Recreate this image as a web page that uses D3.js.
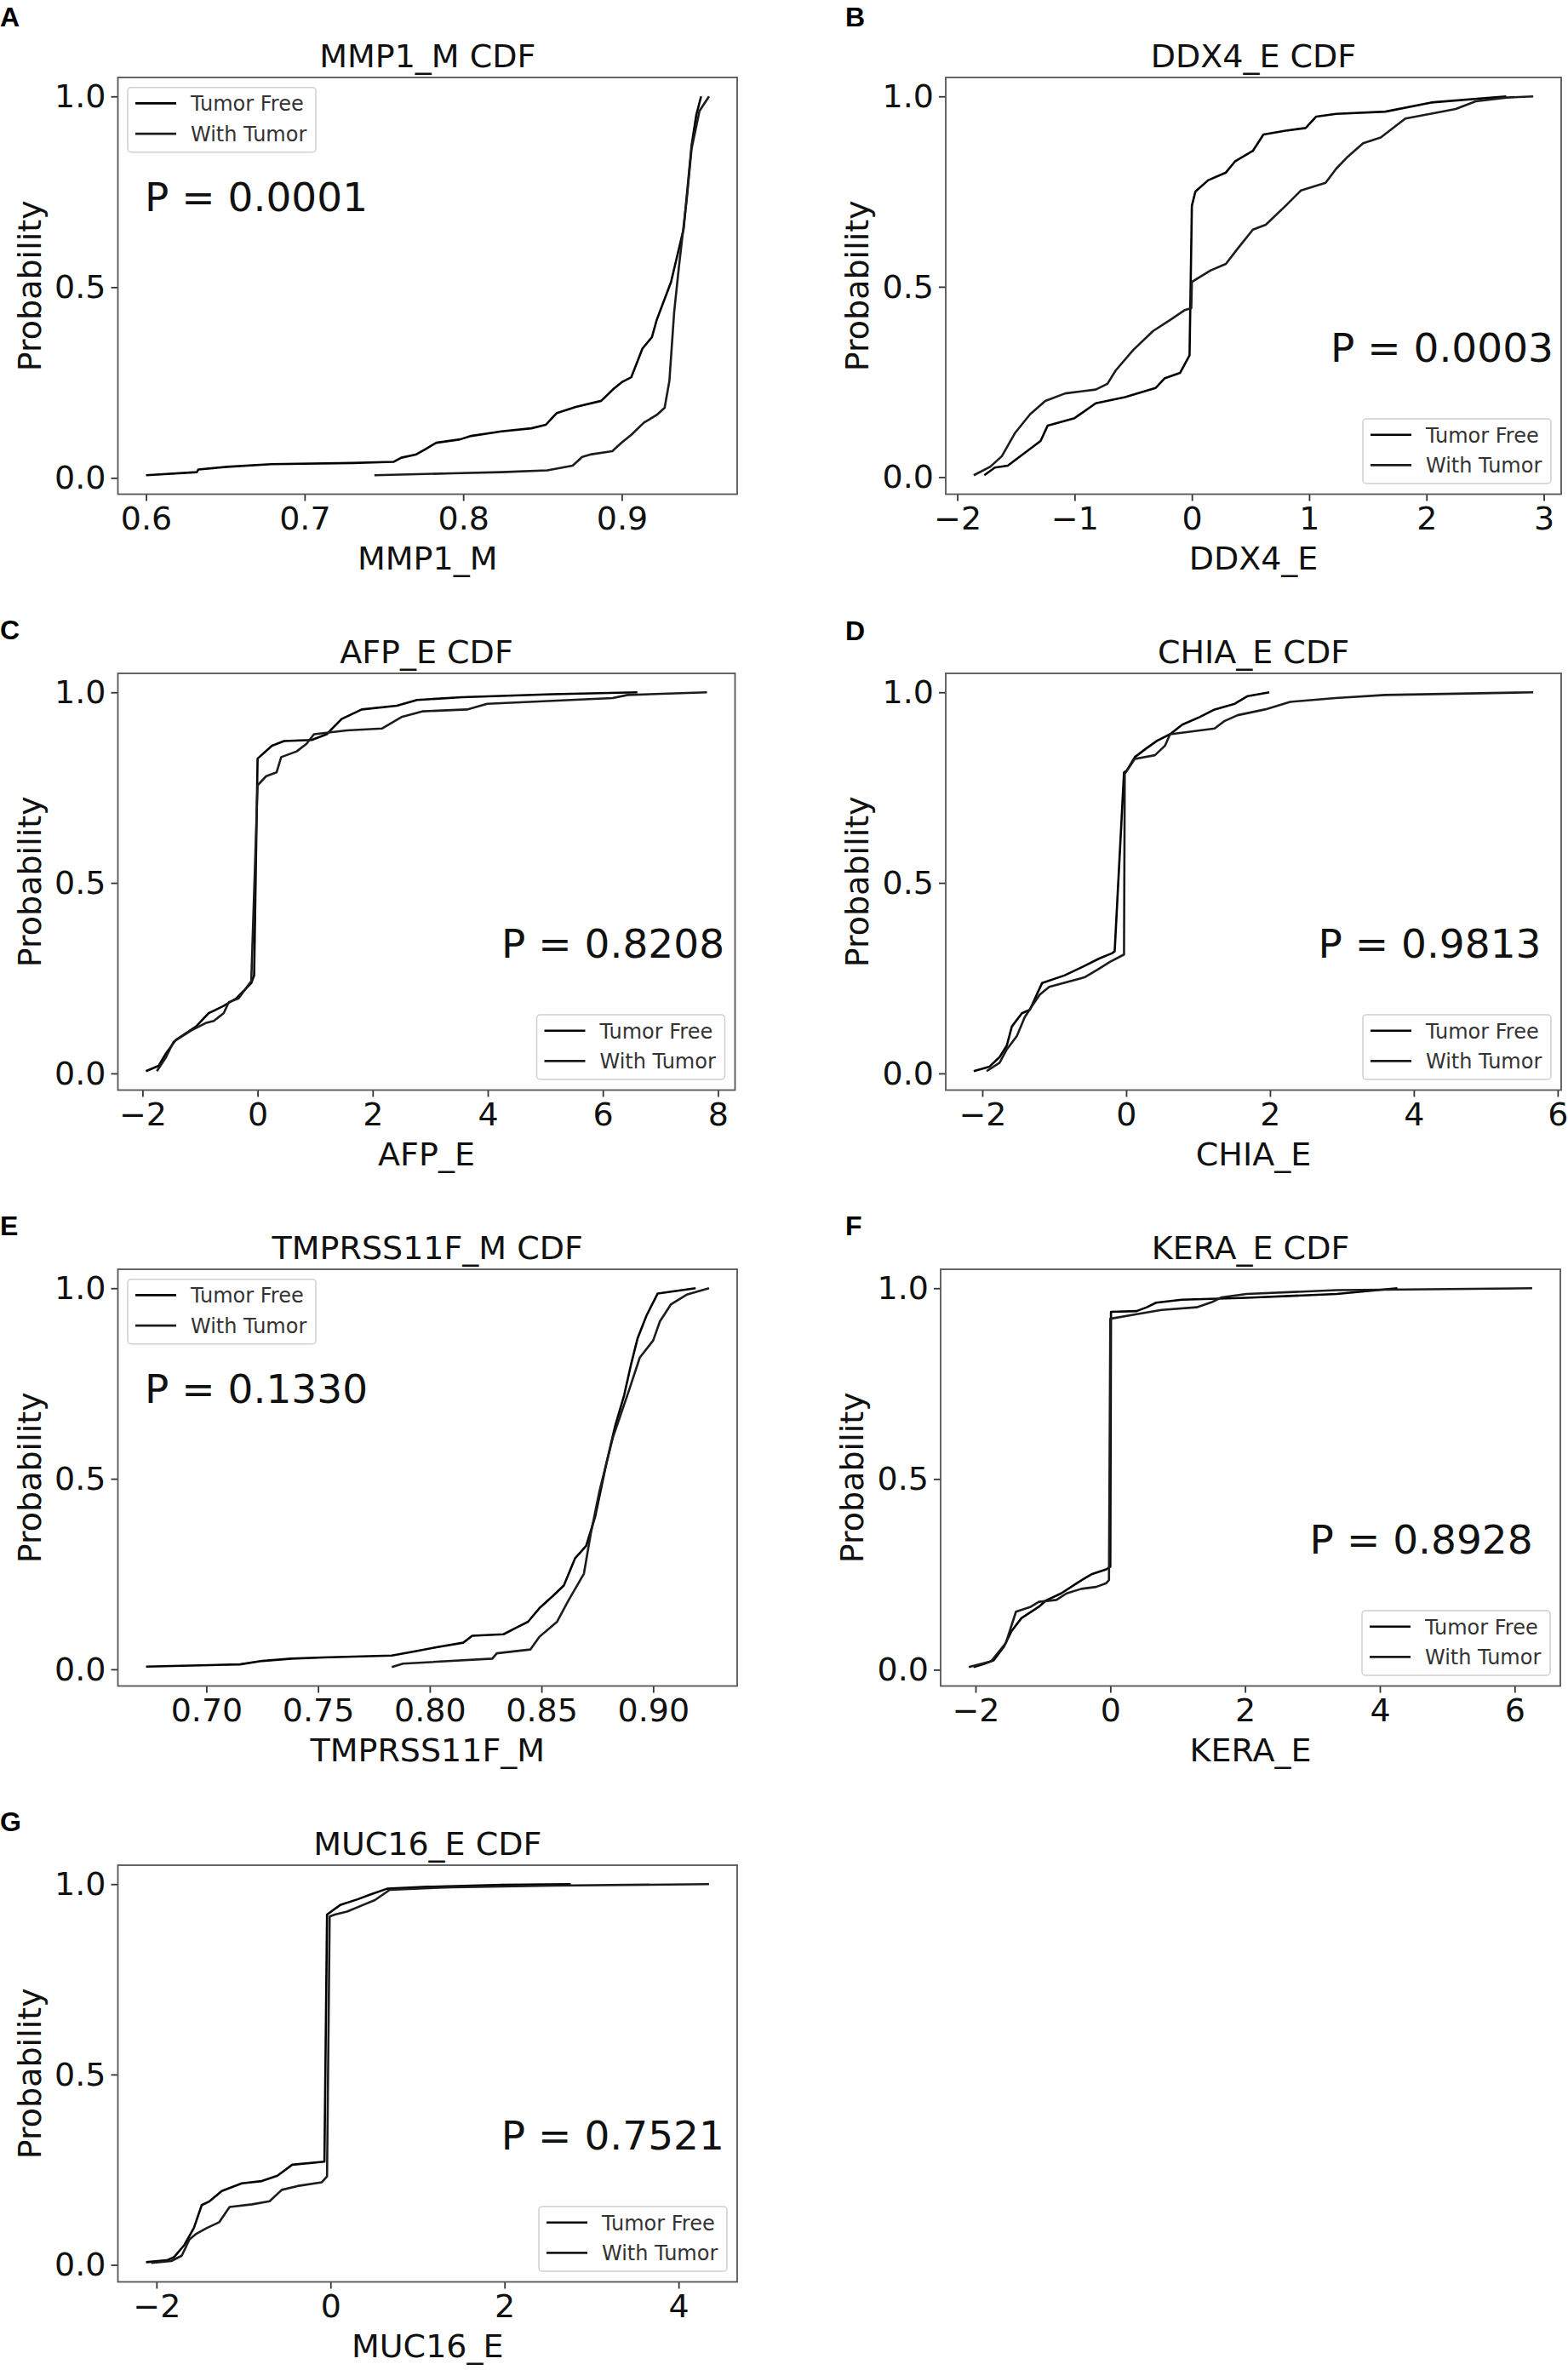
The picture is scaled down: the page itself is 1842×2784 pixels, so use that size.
<!DOCTYPE html>
<html lang="en">
<head>
<meta charset="UTF-8">
<title>CDF panels</title>
<script src="https://cdn.jsdelivr.net/npm/d3@7"></script>
<style>
  body { margin: 0; background: #fff; }
  text { font-family: "DejaVu Sans", sans-serif; }
</style>
</head>
<body>
<svg id="fig" width="1842" height="2784"></svg>
<script>
// ---- data: [value, cumulative probability] ----
var mmp1Free = [[0.600,0.007],[0.632,0.015],[0.633,0.022],[0.651,0.029],[0.679,0.036],[0.730,0.039],[0.756,0.042],[0.761,0.053],[0.770,0.061],[0.776,0.075],[0.783,0.092],[0.798,0.101],[0.805,0.110],[0.824,0.122],[0.843,0.130],[0.852,0.139],[0.859,0.170],[0.871,0.186],[0.887,0.202],[0.895,0.234],[0.900,0.251],[0.906,0.264],[0.913,0.339],[0.919,0.369],[0.922,0.414],[0.931,0.513],[0.939,0.653],[0.944,0.872],[0.947,0.952],[0.950,1.0]];
var mmp1Tumor = [[0.744,0.007],[0.793,0.012],[0.824,0.015],[0.853,0.020],[0.869,0.032],[0.875,0.055],[0.881,0.062],[0.894,0.070],[0.900,0.093],[0.906,0.113],[0.914,0.145],[0.922,0.165],[0.927,0.184],[0.930,0.254],[0.933,0.434],[0.936,0.553],[0.941,0.733],[0.944,0.863],[0.949,0.962],[0.955,1.0]];

var ddx4Free = [[-1.77,0.005],[-1.68,0.025],[-1.57,0.030],[-1.42,0.065],[-1.29,0.095],[-1.23,0.135],[-1.00,0.155],[-0.82,0.194],[-0.57,0.210],[-0.31,0.234],[-0.23,0.260],[-0.10,0.274],[-0.02,0.320],[0.00,0.713],[0.03,0.750],[0.14,0.780],[0.29,0.800],[0.37,0.830],[0.52,0.857],[0.61,0.900],[0.80,0.910],[0.97,0.917],[1.06,0.947],[1.23,0.954],[1.65,0.960],[2.04,0.984],[2.68,1.0]];
var ddx4Tumor = [[-1.86,0.005],[-1.72,0.027],[-1.62,0.055],[-1.51,0.115],[-1.38,0.165],[-1.25,0.200],[-1.08,0.220],[-0.82,0.230],[-0.72,0.245],[-0.65,0.280],[-0.50,0.334],[-0.33,0.384],[-0.18,0.414],[-0.06,0.439],[-0.005,0.444],[0.00,0.513],[0.16,0.543],[0.29,0.560],[0.39,0.600],[0.52,0.650],[0.63,0.663],[0.80,0.713],[0.93,0.753],[1.14,0.773],[1.23,0.810],[1.33,0.842],[1.46,0.877],[1.61,0.892],[1.82,0.942],[2.08,0.957],[2.25,0.967],[2.42,0.987],[2.68,0.997],[2.91,1.0]];

var afpFree = [[-1.94,0.006],[-1.72,0.020],[-1.59,0.053],[-1.42,0.088],[-1.07,0.123],[-0.85,0.158],[-0.59,0.177],[-0.37,0.197],[-0.11,0.237],[-0.06,0.257],[0.00,0.826],[0.25,0.860],[0.46,0.872],[0.94,0.875],[1.20,0.890],[1.46,0.930],[1.81,0.955],[2.42,0.965],[2.77,0.980],[3.55,0.987],[5.12,0.995],[6.60,1.0]];
var afpTumor = [[-1.75,0.006],[-1.59,0.043],[-1.46,0.083],[-1.15,0.113],[-0.89,0.133],[-0.76,0.138],[-0.59,0.158],[-0.50,0.187],[-0.33,0.197],[-0.11,0.242],[0.00,0.756],[0.15,0.780],[0.33,0.790],[0.41,0.830],[0.68,0.845],[0.85,0.865],[0.98,0.890],[1.55,0.900],[2.16,0.905],[2.50,0.935],[2.86,0.950],[3.64,0.955],[3.99,0.970],[6.17,0.985],[6.43,0.993],[7.81,1.0]];

var chiaFree = [[-2.12,0.006],[-1.90,0.018],[-1.76,0.043],[-1.66,0.073],[-1.59,0.123],[-1.45,0.158],[-1.34,0.167],[-1.17,0.237],[-0.86,0.257],[-0.58,0.282],[-0.37,0.302],[-0.20,0.315],[-0.16,0.320],[-0.03,0.790],[0.01,0.795],[0.12,0.830],[0.26,0.850],[0.43,0.873],[0.61,0.890],[0.78,0.915],[1.02,0.935],[1.23,0.955],[1.51,0.970],[1.69,0.990],[1.99,1.0]];
var chiaTumor = [[-1.94,0.006],[-1.76,0.028],[-1.66,0.063],[-1.52,0.098],[-1.41,0.148],[-1.31,0.177],[-1.20,0.207],[-1.07,0.227],[-0.58,0.252],[-0.40,0.272],[-0.23,0.292],[-0.03,0.312],[-0.02,0.786],[0.12,0.825],[0.40,0.835],[0.54,0.860],[0.61,0.890],[0.82,0.895],[1.23,0.905],[1.37,0.925],[1.55,0.940],[1.93,0.955],[2.28,0.975],[2.91,0.985],[3.60,0.993],[5.66,1.0]];

var tmprssFree = [[0.673,0.007],[0.715,0.013],[0.725,0.022],[0.738,0.028],[0.752,0.031],[0.783,0.036],[0.794,0.048],[0.803,0.058],[0.815,0.070],[0.819,0.088],[0.833,0.092],[0.839,0.110],[0.844,0.125],[0.849,0.160],[0.855,0.192],[0.860,0.220],[0.865,0.291],[0.870,0.324],[0.874,0.400],[0.879,0.539],[0.883,0.639],[0.887,0.719],[0.890,0.798],[0.893,0.868],[0.897,0.928],[0.902,0.986],[0.919,1.0]];
var tmprssTumor = [[0.783,0.006],[0.788,0.015],[0.828,0.028],[0.830,0.042],[0.845,0.052],[0.849,0.085],[0.857,0.125],[0.862,0.180],[0.869,0.251],[0.872,0.354],[0.876,0.469],[0.882,0.609],[0.889,0.729],[0.894,0.818],[0.900,0.863],[0.903,0.913],[0.908,0.958],[0.915,0.983],[0.925,1.0]];

var keraFree = [[-2.03,0.007],[-1.88,0.015],[-1.73,0.025],[-1.58,0.060],[-1.47,0.100],[-1.32,0.135],[-1.06,0.165],[-0.95,0.182],[-0.73,0.200],[-0.47,0.230],[-0.28,0.250],[-0.06,0.263],[0.00,0.270],[0.01,0.938],[0.39,0.940],[0.54,0.950],[0.68,0.962],[1.06,0.970],[2.02,0.975],[3.36,0.985],[4.26,1.0]];
var keraTumor = [[-2.10,0.007],[-1.77,0.022],[-1.55,0.070],[-1.40,0.152],[-1.18,0.165],[-1.06,0.178],[-0.80,0.183],[-0.65,0.200],[-0.43,0.212],[-0.21,0.217],[-0.06,0.227],[-0.02,0.235],[0.00,0.920],[0.39,0.932],[0.76,0.943],[1.28,0.950],[1.50,0.963],[1.65,0.976],[2.02,0.985],[3.36,0.995],[6.26,1.0]];

var muc16Free = [[-2.12,0.007],[-1.88,0.012],[-1.80,0.020],[-1.68,0.052],[-1.57,0.097],[-1.48,0.157],[-1.39,0.167],[-1.25,0.194],[-1.02,0.214],[-0.79,0.220],[-0.61,0.234],[-0.44,0.263],[-0.07,0.271],[-0.04,0.920],[0.11,0.945],[0.31,0.960],[0.45,0.972],[0.65,0.988],[1.12,0.993],[1.98,0.998],[2.76,1.0]];
var muc16Tumor = [[-2.06,0.005],[-1.83,0.010],[-1.71,0.024],[-1.62,0.067],[-1.54,0.082],[-1.42,0.097],[-1.28,0.112],[-1.16,0.152],[-0.90,0.159],[-0.70,0.167],[-0.56,0.197],[-0.38,0.207],[-0.10,0.217],[-0.04,0.232],[-0.01,0.915],[0.05,0.920],[0.19,0.928],[0.37,0.945],[0.51,0.958],[0.68,0.985],[1.40,0.992],[2.56,0.996],[4.35,1.0]];

var tumorFree = [mmp1Free, ddx4Free, afpFree, chiaFree, tmprssFree, keraFree, muc16Free];
var withTumor = [mmp1Tumor, ddx4Tumor, afpTumor, chiaTumor, tmprssTumor, keraTumor, muc16Tumor];
var seriesNames = ["Tumor Free", "With Tumor"];

var panelLetters = ["A", "B", "C", "D", "E", "F", "G"];
var titles = ["MMP1_M CDF", "DDX4_E CDF", "AFP_E CDF", "CHIA_E CDF", "TMPRSS11F_M CDF", "KERA_E CDF", "MUC16_E CDF"];
var xLabels = ["MMP1_M", "DDX4_E", "AFP_E", "CHIA_E", "TMPRSS11F_M", "KERA_E", "MUC16_E"];
var pValues = ["0.0001", "0.0003", "0.8208", "0.9813", "0.1330", "0.8928", "0.7521"];
var xTicks = [[0.6,0.7,0.8,0.9], [-2,-1,0,1,2,3], [-2,0,2,4,6,8], [-2,0,2,4,6], [0.70,0.75,0.80,0.85,0.90], [-2,0,2,4,6], [-2,0,2,4]];
var xTickFormats = [".1f", "d", "d", "d", ".2f", "d", "d"];
var yTicks = [0.0, 0.5, 1.0];

// ---- layout (pixels) ----
var ROW = 700, BOX_TOP = 91, BOX_H = 489.5;
var boxes = [
  {left: 138.5, right: 866, row: 0, col: 0},
  {left: 1111, right: 1834, row: 0, col: 1},
  {left: 138.5, right: 863.5, row: 1, col: 0},
  {left: 1111, right: 1834, row: 1, col: 1},
  {left: 138.5, right: 866, row: 2, col: 0},
  {left: 1105, right: 1833, row: 2, col: 1},
  {left: 138.5, right: 866, row: 3, col: 0}
];
var letterY = [31, 31, 51, 52, 51, 51, 51];
var legendCorner = ["ul", "lr", "lr", "lr", "ul", "lr", "lr"];
var pPos = [[0.0433, 0.321], [0.625, 0.683], [0.6214, 0.683], [0.605, 0.683], [0.0433, 0.321], [0.5956, 0.683], [0.619, 0.683]];
var lineColours = ["#000", "#1c1c1c"];

var svg = d3.select("#fig");

function drawPanel(i) {
  var b = boxes[i];
  var top = BOX_TOP + ROW * b.row, bottom = top + BOX_H;
  var all = tumorFree[i].concat(withTumor[i]);
  var xe = d3.extent(all, function(d) { return d[0]; });
  var ye = d3.extent(all, function(d) { return d[1]; });
  var xm = (xe[1] - xe[0]) * 0.05, ym = (ye[1] - ye[0]) * 0.05;
  var x = d3.scaleLinear().domain([xe[0] - xm, xe[1] + xm]).range([b.left, b.right]);
  var y = d3.scaleLinear().domain([ye[0] - ym, ye[1] + ym]).range([bottom, top]);
  var g = svg.append("g");

  // panel letter
  g.append("text")
    .attr("x", b.col == 0 ? 0 : 993)
    .attr("y", letterY[i] + ROW * b.row)
    .style("font-family", "'Liberation Sans', Arial, sans-serif")
    .attr("font-weight", "bold")
    .attr("font-size", 32)
    .text(panelLetters[i]);

  // title
  g.append("text")
    .attr("x", (b.left + b.right) / 2)
    .attr("y", top - 12)
    .attr("text-anchor", "middle")
    .attr("font-size", 38)
    .attr("fill", "#111")
    .text(titles[i]);

  // axes
  var xa = g.append("g").attr("transform", "translate(0," + bottom + ")")
    .call(d3.axisBottom(x).tickValues(xTicks[i]).tickFormat(d3.format(xTickFormats[i])).tickSize(8).tickPadding(7));
  var ya = g.append("g").attr("transform", "translate(" + b.left + ",0)")
    .call(d3.axisLeft(y).tickValues(yTicks).tickFormat(d3.format(".1f")).tickSize(8).tickPadding(6));
  [xa, ya].forEach(function(a) {
    a.select(".domain").remove();
    a.attr("font-size", 38).attr("font-family", "DejaVu Sans");
    a.selectAll(".tick line").attr("stroke", "#333").attr("stroke-width", 1.8);
    a.selectAll(".tick text").attr("fill", "#111");
  });

  // frame
  g.append("rect")
    .attr("x", b.left).attr("y", top)
    .attr("width", b.right - b.left).attr("height", bottom - top)
    .attr("fill", "none").attr("stroke", "#555").attr("stroke-width", 1.8);

  // axis labels
  g.append("text")
    .attr("x", (b.left + b.right) / 2)
    .attr("y", bottom + 88)
    .attr("text-anchor", "middle")
    .attr("font-size", 38)
    .attr("fill", "#111")
    .text(xLabels[i]);
  g.append("text")
    .attr("transform", "translate(" + (b.left - 91) + "," + ((top + bottom) / 2) + ") rotate(-90)")
    .attr("text-anchor", "middle")
    .attr("font-size", 38)
    .attr("fill", "#111")
    .text("Probability");

  // curves
  var line = d3.line().x(function(d) { return x(d[0]); }).y(function(d) { return y(d[1]); });
  [tumorFree[i], withTumor[i]].forEach(function(s, k) {
    g.append("path")
      .attr("d", line(s))
      .attr("fill", "none")
      .attr("stroke", lineColours[k])
      .attr("stroke-width", 2.6)
      .attr("stroke-linejoin", "round");
  });

  // p value
  g.append("text")
    .attr("x", b.left + pPos[i][0] * (b.right - b.left))
    .attr("y", top + pPos[i][1] * (bottom - top))
    .attr("font-size", 47)
    .attr("fill", "#111")
    .text("P = " + pValues[i]);

  // legend
  var lw = 221, lh = 76;
  var lx = legendCorner[i] == "ul" ? b.left + 11.5 : b.right - 12 - lw;
  var ly = legendCorner[i] == "ul" ? top + 11.7 : bottom - 12.5 - lh;
  var lg = g.append("g").attr("transform", "translate(" + lx + "," + ly + ")");
  lg.append("rect").attr("width", lw).attr("height", lh).attr("rx", 4)
    .attr("fill", "#fff").attr("fill-opacity", 0.8)
    .attr("stroke", "#cfcfcf").attr("stroke-width", 1.5);
  seriesNames.forEach(function(name, k) {
    var ry = 18.7 + k * 35.7;
    lg.append("line").attr("x1", 9).attr("x2", 57).attr("y1", ry).attr("y2", ry)
      .attr("stroke", lineColours[k]).attr("stroke-width", 2.6);
    lg.append("text").attr("x", 74).attr("y", ry + 9)
      .attr("font-size", 24).attr("fill", "#333").text(name);
  });
}

for (var i = 0; i < titles.length; i++) drawPanel(i);
</script>
</body>
</html>
